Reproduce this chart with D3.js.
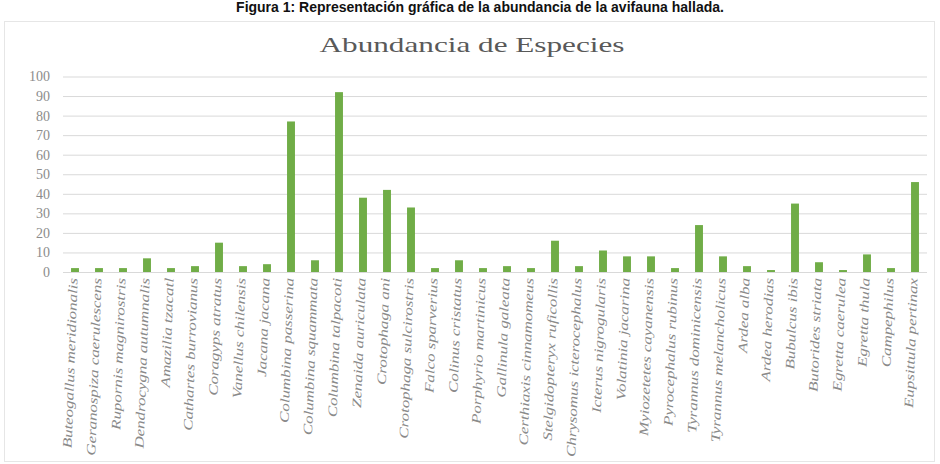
<!DOCTYPE html>
<html>
<head>
<meta charset="utf-8">
<script src="https://cdn.jsdelivr.net/npm/d3@7"></script>
<style>
  html, body { margin: 0; padding: 0; background: #fff; }
  svg { display: block; }
</style>
</head>
<body>
<svg id="chart" width="940" height="464"></svg>
<script>
  var species = [
    'Buteogallus meridionalis', 'Geranospiza caerulescens', 'Rupornis magnirostris',
    'Dendrocygna autumnalis', 'Amazilia tzacatl', 'Cathartes burrovianus',
    'Coragyps atratus', 'Vanellus chilensis', 'Jacana jacana',
    'Columbina passerina', 'Columbina squammata', 'Columbina talpacoti',
    'Zenaida auriculata', 'Crotophaga ani', 'Crotophaga sulcirostris',
    'Falco sparverius', 'Colinus cristatus', 'Porphyrio martinicus',
    'Gallinula galeata', 'Certhiaxis cinnamomeus', 'Stelgidopteryx ruficollis',
    'Chrysomus icterocephalus', 'Icterus nigrogularis', 'Volatinia jacarina',
    'Myiozetetes cayanensis', 'Pyrocephalus rubinus', 'Tyrannus dominicensis',
    'Tyrannus melancholicus', 'Ardea alba', 'Ardea herodias',
    'Bubulcus ibis', 'Butorides striata', 'Egretta caerulea',
    'Egretta thula', 'Campephilus', 'Eupsittula pertinax'
  ];
  var abundance = [
    2, 2, 2, 7, 2, 3, 15, 3, 4,
    77, 6, 92, 38, 42, 33, 2, 6, 2,
    3, 2, 16, 3, 11, 8, 8, 2, 24,
    8, 3, 1, 35, 5, 1, 9, 2, 46
  ];
  var yTicks = [0, 10, 20, 30, 40, 50, 60, 70, 80, 90, 100];

  (function () {
    'use strict';

    var svg = d3.select('#chart');
    var plotL = 63, plotR = 927, plotT = 76.5, plotB = 272;

    // faint outer frame of the chart area
    svg.append('rect')
      .attr('x', 4.5).attr('y', 21.5)
      .attr('width', 930).attr('height', 440)
      .attr('fill', 'none')
      .attr('stroke', '#e6e6e6');

    // figure caption above the chart
    svg.append('text')
      .attr('x', 480).attr('y', 12)
      .attr('text-anchor', 'middle')
      .style('font-family', '"Liberation Sans", Arial, sans-serif')
      .style('font-weight', 'bold')
      .style('font-size', '14px')
      .attr('fill', '#111')
      .text('Figura 1: Representación gráfica de la abundancia de la avifauna hallada.');

    svg.append('text')
      .attr('x', 472).attr('y', 52)
      .attr('text-anchor', 'middle')
      .attr('textLength', 305)
      .attr('lengthAdjust', 'spacingAndGlyphs')
      .style('font-family', '"Liberation Serif", "Times New Roman", serif')
      .style('font-size', '21px')
      .attr('fill', '#595959')
      .text('Abundancia de Especies');

    var x = d3.scaleBand().domain(species).range([plotL, plotR]).paddingInner(0.67).paddingOuter(0.335);
    var y = d3.scaleLinear().domain([0, 100]).range([plotB, plotT]);

    // grid + y labels
    var yAxis = d3.axisLeft(y).tickValues(yTicks).tickSize(-(plotR - plotL)).tickPadding(13);
    var gy = svg.append('g').attr('transform', 'translate(' + plotL + ',0)').call(yAxis);
    gy.select('.domain').remove();
    gy.selectAll('.tick line').attr('stroke', '#d9d9d9');
    gy.selectAll('.tick text')
      .style('font-family', '"Liberation Serif", "Times New Roman", serif')
      .style('font-size', '14px')
      .attr('fill', '#8c8c8c');

    // bars
    svg.append('g')
      .selectAll('rect')
      .data(abundance)
      .join('rect')
      .attr('x', function (d, i) { return x(species[i]); })
      .attr('width', x.bandwidth())
      .attr('y', function (d) { return y(d); })
      .attr('height', function (d) { return y(0) - y(d); })
      .attr('fill', '#70ad47');

    // x labels, rotated & stretched along their length
    var xAxis = d3.axisBottom(x).tickSize(0).tickPadding(0);
    var gx = svg.append('g').attr('transform', 'translate(0,' + plotB + ')').call(xAxis);
    gx.select('.domain').remove();
    gx.selectAll('.tick text')
      .attr('text-anchor', 'end')
      .attr('dy', '0.35em')
      .attr('y', 0)
      .attr('transform', 'translate(-2,6) rotate(-88) scale(1.3,1)')
      .style('font-family', '"Liberation Serif", "Times New Roman", serif')
      .style('font-style', 'italic')
      .style('font-size', '13px')
      .attr('fill', '#8a8a8a');
  })();
</script>
</body>
</html>
